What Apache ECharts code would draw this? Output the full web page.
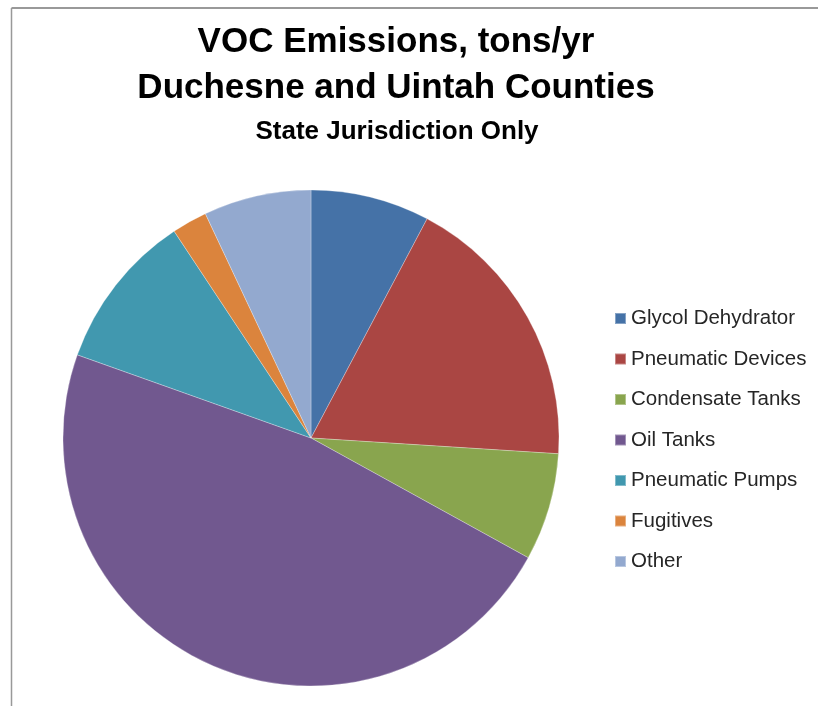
<!DOCTYPE html>
<html>
<head>
<meta charset="utf-8">
<script src="https://cdn.jsdelivr.net/npm/echarts@6/dist/echarts.min.js"></script>
<style>
html,body{margin:0;padding:0;background:#fff;}
#main{width:818px;height:706px;}
</style>
</head>
<body>
<div id="main"></div>
<script>
const categories = ['Glycol Dehydrator','Pneumatic Devices','Condensate Tanks','Oil Tanks','Pneumatic Pumps','Fugitives','Other'];
const values = [7.75, 18.25, 7.0, 47.4, 10.25, 2.3, 7.0];
const colors = ['#4572A7','#AA4643','#89A54E','#71588F','#4198AF','#DB843D','#93A9CF'];
const titleLines = ['VOC Emissions, tons/yr','Duchesne and Uintah Counties'];
const subtitle = 'State Jurisdiction Only';

const chart = echarts.init(document.getElementById('main'), null, {renderer:'canvas'});
const font = '"Liberation Sans", Arial, sans-serif';
chart.setOption({
  animation: false,
  backgroundColor: '#fff',
  color: colors,
  title: [
    {text: titleLines[0], left: 396, top: 24, textAlign: 'center', padding: 0,
     textStyle: {fontFamily: font, fontWeight: 'bold', fontSize: 35, lineHeight: 36, color: '#000'}},
    {text: titleLines[1], left: 396, top: 70, textAlign: 'center', padding: 0,
     textStyle: {fontFamily: font, fontWeight: 'bold', fontSize: 35, lineHeight: 36, color: '#000'}},
    {text: subtitle, left: 397, top: 118, textAlign: 'center', padding: 0,
     textStyle: {fontFamily: font, fontWeight: 'bold', fontSize: 26, lineHeight: 27, color: '#000'}}
  ],
  legend: {
    orient: 'vertical', left: 614, top: 308, padding: 0,
    itemWidth: 11, itemHeight: 11, itemGap: 19.5, icon: 'rect',
    data: categories,
    textStyle: {fontFamily: font, fontSize: 20.5, lineHeight: 21, color: '#262626'}
  },
  graphic: [
    {type: 'line', shape: {x1: 11.5, y1: 8, x2: 818, y2: 8}, style: {stroke: '#999', lineWidth: 2}},
    {type: 'line', shape: {x1: 11.5, y1: 8, x2: 11.5, y2: 706}, style: {stroke: '#999', lineWidth: 1.5}}
  ],
  series: [{
    type: 'pie',
    center: [311, 438],
    radius: 248,
    startAngle: 90,
    clockwise: true,
    label: {show: false},
    labelLine: {show: false},
    emphasis: {disabled: true},
    itemStyle: {borderColor: 'rgba(255,255,255,0.35)', borderWidth: 0.8},
    data: categories.map((c, i) => ({name: c, value: values[i]}))
  }]
});
</script>
</body>
</html>
